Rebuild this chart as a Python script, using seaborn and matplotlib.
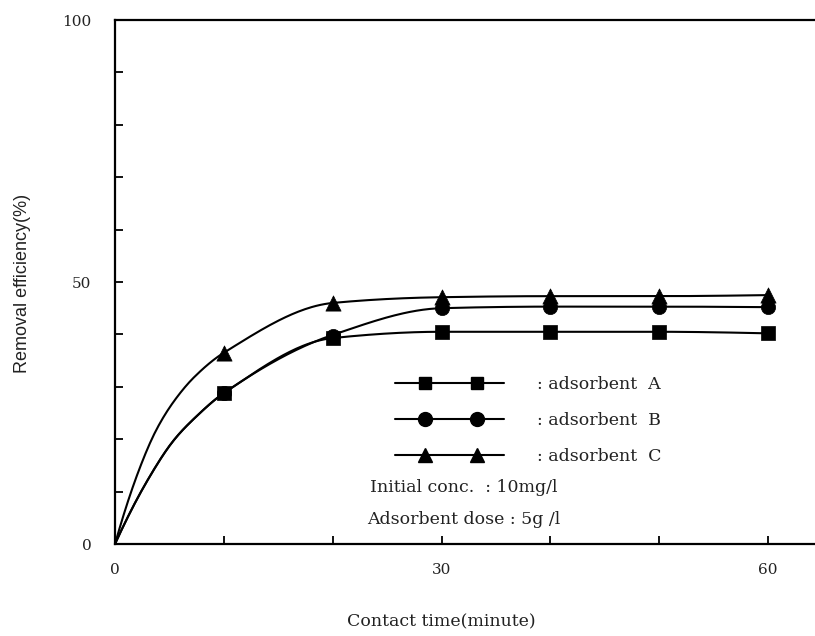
import numpy as np
import pandas as pd
import matplotlib
matplotlib.use("Agg")
import matplotlib.pyplot as plt
import seaborn as sns
from matplotlib.lines import Line2D
from matplotlib.legend_handler import HandlerLine2D

# ---------------- data ----------------
marker_time = [10, 20, 30, 40, 50, 60]
eff_A = [28.8, 39.3, 40.5, 40.5, 40.5, 40.2]
eff_B = [28.8, 39.6, 45.0, 45.3, 45.3, 45.2]
eff_C = [36.5, 46.0, 47.1, 47.3, 47.3, 47.5]

# fitted curves drawn in the figure
curve_time_C = [0, 2.2, 3.8, 5.4, 7.3, 10, 20, 30, 40, 50, 60]
curve_C = [0, 14.1, 21.8, 27.2, 31.9, 36.5, 46.0, 47.1, 47.3, 47.3, 47.5]
curve_time_AB = [0, 3.0, 5.4, 7.3, 10, 20, 30, 40, 50, 60]
curve_A = [0, 12.2, 19.8, 24.0, 28.8, 39.3, 40.5, 40.5, 40.5, 40.2]
curve_B = [0, 12.2, 19.8, 24.0, 28.8, 39.9, 45.0, 45.3, 45.3, 45.2]

series_names = ["A", "B", "C"]
legend_labels = [": adsorbent  A", ": adsorbent  B", ": adsorbent  C"]
x_ticks = [0, 10, 20, 30, 40, 50, 60]
x_ticklabels = ["0", "", "", "30", "", "", "60"]
y_ticks = [0, 10, 20, 30, 40, 50, 60, 70, 80, 90, 100]
y_ticklabels = ["0", "", "", "", "", "50", "", "", "", "", "100"]
x_label = "Contact time(minute)"
y_label = "Removal efficiency(%)"
note_conc = "Initial conc.  : 10mg/l"
note_dose = "Adsorbent dose : 5g /l"


def smooth(x, y, n=300):
    """Monotone cubic (PCHIP-style) rendering of a curve through its points."""
    x = np.asarray(x, float)
    y = np.asarray(y, float)
    h = np.diff(x)
    d = np.diff(y) / h
    m = np.zeros_like(x)
    for k in range(1, len(x) - 1):
        if d[k - 1] * d[k] > 0:
            w1 = 2 * h[k] + h[k - 1]
            w2 = h[k] + 2 * h[k - 1]
            m[k] = (w1 + w2) / (w1 / d[k - 1] + w2 / d[k])

    def end(h0, h1, d0, d1):
        mm = ((2 * h0 + h1) * d0 - h0 * d1) / (h0 + h1)
        if np.sign(mm) != np.sign(d0):
            return 0.0
        if np.sign(d0) != np.sign(d1) and abs(mm) > abs(3 * d0):
            return 3 * d0
        return mm

    m[0] = end(h[0], h[1], d[0], d[1])
    m[-1] = end(h[-1], h[-2], d[-1], d[-2])
    xs = np.linspace(x[0], x[-1], n)
    idx = np.clip(np.searchsorted(x, xs) - 1, 0, len(x) - 2)
    t = (xs - x[idx]) / h[idx]
    h00 = 2 * t**3 - 3 * t**2 + 1
    h10 = t**3 - 2 * t**2 + t
    h01 = -2 * t**3 + 3 * t**2
    h11 = t**3 - t**2
    ys = h00 * y[idx] + h10 * h[idx] * m[idx] + h01 * y[idx + 1] + h11 * h[idx] * m[idx + 1]
    return xs, ys


# long-form tables
pts = pd.DataFrame({
    "time": marker_time * 3,
    "eff": eff_A + eff_B + eff_C,
    "series": sum([[s] * len(marker_time) for s in series_names], []),
})
curves = []
for name, tx, vy in [("A", curve_time_AB, curve_A), ("B", curve_time_AB, curve_B), ("C", curve_time_C, curve_C)]:
    xs, ys = smooth(tx, vy)
    curves.append(pd.DataFrame({"time": xs, "eff": ys, "series": name}))
curves = pd.concat(curves, ignore_index=True)

sns.set_theme(style="white")
plt.rcParams["font.family"] = ["DejaVu Serif"]

fig = plt.figure(figsize=(8.15, 6.36), dpi=100)
ax = fig.add_axes([115 / 815, 1 - 544 / 636, 700 / 815, 524 / 636])

palette = {s: "black" for s in series_names}
sns.lineplot(data=curves, x="time", y="eff", hue="series", palette=palette,
             linewidth=1.5, legend=False, ax=ax, estimator=None, sort=False, zorder=2)

marker_map = {"A": "s", "B": "o", "C": "^"}
size_map = {"A": 95, "B": 105, "C": 120}
zorder_map = {"A": 5, "B": 3, "C": 4}
for s in series_names:
    sub = pts[pts["series"] == s]
    sns.scatterplot(data=sub, x="time", y="eff", marker=marker_map[s], s=size_map[s],
                    color="black", edgecolor="black", linewidth=0.5, ax=ax,
                    zorder=zorder_map[s], legend=False)

ax.set_xlim(0, 64.3)
ax.set_ylim(0, 100)
ax.set_xticks(x_ticks)
ax.set_xticklabels(x_ticklabels)
ax.set_yticks(y_ticks)
ax.set_yticklabels(y_ticklabels)
ax.tick_params(axis="both", which="major", bottom=True, left=True, direction="in",
               length=6, width=1.3, color="black", labelsize=11, labelcolor="#222222")
ax.tick_params(axis="x", pad=14)
ax.tick_params(axis="y", pad=17)
for sp in ["left", "bottom", "top"]:
    ax.spines[sp].set_visible(True)
    ax.spines[sp].set_color("black")
    ax.spines[sp].set_linewidth(1.6)
ax.spines["right"].set_visible(False)

ax.set_xlabel(x_label, fontsize=12.5, color="#222222")
ax.xaxis.set_label_coords((441 - 115) / 700, (544 - 613) / 524)
ax.set_ylabel(y_label, fontsize=13, color="#222222", family=["Liberation Sans", "DejaVu Sans"])
ax.yaxis.set_label_coords((31 - 115) / 700, (544 - 283) / 524)


class PairMarkerHandler(HandlerLine2D):
    def create_artists(self, legend, orig_handle, xdescent, ydescent, width, height, fontsize, trans):
        x0 = -xdescent
        xs = x0 + width * np.array([0.0, 0.27, 0.75, 1.0])
        ys = np.full_like(xs, (height - ydescent) / 2.0)
        line = Line2D(xs, ys)
        self.update_prop(line, orig_handle, legend)
        line.set_markevery([1, 2])
        line.set_transform(trans)
        return [line]


handles = [Line2D([], [], color="black", linewidth=1.5, marker=marker_map[s],
                  markersize={"A": 9, "B": 10, "C": 10.5}[s]) for s in series_names]
leg = ax.legend(handles, legend_labels, handler_map={Line2D: PairMarkerHandler()},
                loc="upper left", bbox_to_anchor=(395 / 815, 1 - 376 / 636),
                bbox_transform=fig.transFigure, frameon=False, fontsize=12.5,
                handlelength=6.3, handletextpad=1.9, labelspacing=1.1, borderpad=0,
                borderaxespad=0)
for t in leg.get_texts():
    t.set_color("#222222")

fig.text(370 / 815, 1 - 488 / 636, note_conc, fontsize=12.5, va="center", ha="left", color="#222222")
fig.text(367 / 815, 1 - 520 / 636, note_dose, fontsize=12.5, va="center", ha="left", color="#222222")

fig.savefig("out.png", dpi=100, facecolor="white")
